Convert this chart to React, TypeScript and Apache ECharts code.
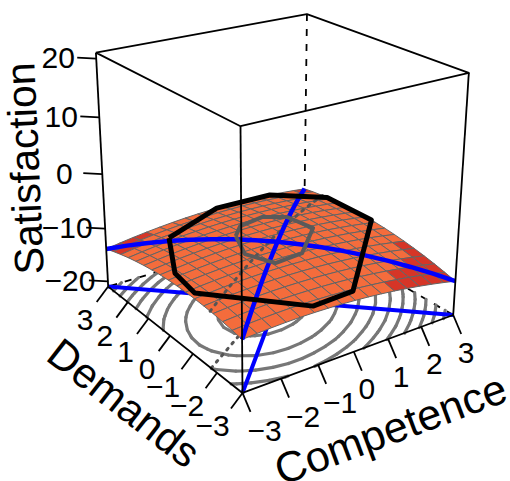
import React, { useEffect, useRef } from "react";
import * as echarts from "echarts";

// Grid positions shared by both horizontal axes
const gridAxis = [-3,-2.625,-2.25,-1.875,-1.5,-1.125,-0.75,-0.375,0,0.375,0.75,1.125,1.5,1.875,2.25,2.625,3];
const gridStep = 0.375;
// Satisfaction: one row per Competence value, one column per Demands value
const zGrid = [
[-11.97,-11.65,-11.39,-11.19,-11.04,-10.96,-10.93,-10.95,-11.04,-11.18,-11.38,-11.64,-11.96,-12.33,-12.77,-13.26,-13.80],
[-11.81,-11.47,-11.20,-10.98,-10.82,-10.72,-10.67,-10.69,-10.76,-10.89,-11.07,-11.32,-11.62,-11.98,-12.40,-12.87,-13.40],
[-11.69,-11.34,-11.05,-10.82,-10.64,-10.52,-10.46,-10.46,-10.52,-10.63,-10.80,-11.03,-11.32,-11.67,-12.07,-12.53,-13.04],
[-11.61,-11.25,-10.94,-10.70,-10.51,-10.38,-10.30,-10.29,-10.33,-10.43,-10.58,-10.80,-11.07,-11.40,-11.78,-12.23,-12.73],
[-11.58,-11.20,-10.88,-10.62,-10.42,-10.27,-10.18,-10.15,-10.18,-10.26,-10.40,-10.60,-10.86,-11.17,-11.55,-11.98,-12.47],
[-11.60,-11.20,-10.87,-10.59,-10.37,-10.21,-10.11,-10.06,-10.07,-10.14,-10.27,-10.45,-10.70,-11.00,-11.35,-11.77,-12.24],
[-11.66,-11.25,-10.90,-10.61,-10.37,-10.20,-10.08,-10.02,-10.01,-10.07,-10.18,-10.35,-10.58,-10.86,-11.21,-11.61,-12.06],
[-11.76,-11.34,-10.97,-10.67,-10.42,-10.23,-10.09,-10.02,-10.00,-10.04,-10.14,-10.29,-10.50,-10.77,-11.10,-11.49,-11.93],
[-11.91,-11.47,-11.09,-10.77,-10.51,-10.30,-10.15,-10.06,-10.03,-10.06,-10.14,-10.28,-10.47,-10.73,-11.04,-11.41,-11.84],
[-12.10,-11.65,-11.26,-10.92,-10.64,-10.42,-10.26,-10.15,-10.11,-10.12,-10.18,-10.31,-10.49,-10.73,-11.03,-11.39,-11.80],
[-12.34,-11.88,-11.47,-11.12,-10.82,-10.59,-10.41,-10.29,-10.23,-10.22,-10.27,-10.38,-10.55,-10.78,-11.06,-11.40,-11.80],
[-12.63,-12.15,-11.72,-11.36,-11.05,-10.80,-10.60,-10.47,-10.39,-10.37,-10.41,-10.51,-10.66,-10.87,-11.14,-11.46,-11.85],
[-12.96,-12.46,-12.02,-11.64,-11.32,-11.05,-10.84,-10.70,-10.60,-10.57,-10.59,-10.67,-10.81,-11.01,-11.26,-11.57,-11.94],
[-13.33,-12.82,-12.37,-11.97,-11.63,-11.35,-11.13,-10.96,-10.86,-10.81,-10.82,-10.88,-11.00,-11.19,-11.42,-11.72,-12.08],
[-13.75,-13.22,-12.76,-12.35,-11.99,-11.70,-11.46,-11.28,-11.16,-11.09,-11.09,-11.14,-11.25,-11.41,-11.64,-11.92,-12.26],
[-14.21,-13.67,-13.19,-12.76,-12.40,-12.09,-11.83,-11.64,-11.50,-11.42,-11.40,-11.44,-11.53,-11.68,-11.89,-12.16,-12.48],
[-14.72,-14.17,-13.67,-13.23,-12.85,-12.52,-12.25,-12.04,-11.89,-11.80,-11.76,-11.78,-11.86,-12.00,-12.19,-12.44,-12.75],
];
const contourLevels = [-10.255,-10.705,-11.155,-11.605,-12.055,-12.505,-12.955,-13.405,-13.855,-14.305];
const lowLevel = -12.4;
const zTicks = [20,10,0,-10,-20];
const xyTicks = [-3,-2,-1,0,1,2,3];
// rings on the surface, as (Competence, Demands)
const blackRing = [[-1.77,2.06],[-2.72,0.18],[-2.87,-0.92],[-1.01,-2.79],[0.18,-2.68],[3,0.15],[3,2],[1.86,3],[0.2,3]];
const greyRing = [[-0.6,0.89],[-1,-0.11],[-0.68,-0.89],[0.15,-0.79],[1.24,0.25],[1.12,1.18],[0.61,1.54],[-0.16,1.36]];
// ends of the dotted principal axis, as (Competence, Demands)
const principalAxis = [[-3,-1.76],[3,2.2]];
const zMin = -21, zMax = 21;

// camera: 3D box corner -> pixel correspondences, fitted to a projective matrix
const corr:number[][]=[
[-3,-3,-21,243,393],[3,-3,-21,453,315],[-3,3,-21,108,286],[-3,-3,21,240,126],[3,-3,21,469,73],[-3,3,21,96,53],[3,3,21,307,14],
[-3,3,20,96.5,58.5],[-3,3,0,102,174],[-3,3,-20,108,282]];
function solve(A:number[][],b:number[]){const n=b.length;const M=A.map((r,i)=>[...r,b[i]]);for(let i=0;i<n;i++){let p=i;for(let k=i+1;k<n;k++)if(Math.abs(M[k][i])>Math.abs(M[p][i]))p=k;[M[i],M[p]]=[M[p],M[i]];for(let k=0;k<n;k++)if(k!==i){const q=M[k][i]/M[i][i];for(let j=i;j<=n;j++)M[k][j]-=q*M[i][j];}}return M.map((r,i)=>r[n]/r[i]);}
function fit(){const rows:number[][]=[];const rhs:number[]=[];for(const [x,y,z,u0,v0] of corr){const X=x/3,Y=y/3,Z=z/21,u=u0/500,v=v0/500;rows.push([X,Y,Z,1,0,0,0,0,-u*X,-u*Y,-u*Z]);rhs.push(u);rows.push([0,0,0,0,X,Y,Z,1,-v*X,-v*Y,-v*Z]);rhs.push(v);}
const ata=Array.from({length:11},(_,i)=>Array.from({length:11},(_,j)=>rows.reduce((s,r)=>s+r[i]*r[j],0)));const atb=Array.from({length:11},(_,i)=>rows.reduce((s,r,k)=>s+r[i]*rhs[k],0));return solve(ata,atb);}
const P=fit();
function project(x:number,y:number,z:number){const X=x/3,Y=y/3,Z=z/21;const w=P[8]*X+P[9]*Y+P[10]*Z+1;return [500*(P[0]*X+P[1]*Y+P[2]*Z+P[3])/w,500*(P[4]*X+P[5]*Y+P[6]*Z+P[7])/w];}

type Prim={k:"line"|"poly"|"text",pts?:number[][],style?:any,text?:string,rot?:number,at?:number[]};
const n=gridAxis.length;
function zAt(x:number,y:number){const fi=Math.min(n-1.001,Math.max(0,(x+3)/gridStep)),fj=Math.min(n-1.001,Math.max(0,(y+3)/gridStep));const i=Math.floor(fi),j=Math.floor(fj),a=fi-i,b=fj-j;return zGrid[i][j]*(1-a)*(1-b)+zGrid[i+1][j]*a*(1-b)+zGrid[i][j+1]*(1-a)*b+zGrid[i+1][j+1]*a*b;}
function contourSegs(level:number){const s:number[][][]=[];for(let i=0;i<n-1;i++)for(let j=0;j<n-1;j++){const c=[[i,j],[i+1,j],[i+1,j+1],[i,j+1]];const p:number[][]=[];for(let e=0;e<4;e++){const [a,b]=[c[e],c[(e+1)%4]];const za=zGrid[a[0]][a[1]],zb=zGrid[b[0]][b[1]];if((za-level)*(zb-level)<0){const t=(level-za)/(zb-za);p.push([gridAxis[a[0]]+t*(gridAxis[b[0]]-gridAxis[a[0]]),gridAxis[a[1]]+t*(gridAxis[b[1]]-gridAxis[a[1]])]);}}if(p.length===2)s.push(p);if(p.length===4){s.push([p[0],p[1]]);s.push([p[2],p[3]]);}}return s;}
const px=(a:number[])=>project(a[0],a[1],a[2]);
const lineP=(pts3:number[][],stroke:string,lw:number,dash?:number[],cap="butt"):Prim=>({k:"line",pts:pts3.map(px),style:{stroke,lineWidth:lw,lineDash:dash,lineCap:cap,lineJoin:"round",fill:"none"}});
const pa=(x:number)=>principalAxis[0][1]+(principalAxis[1][1]-principalAxis[0][1])*(x-principalAxis[0][0])/(principalAxis[1][0]-principalAxis[0][0]);

const under:Prim[]=[];
under.push(lineP([[3,3,zMin],[-3,3,zMin]],"#000",1.8,[7,8]));
under.push(lineP([[3,3,zMin],[3,-3,zMin]],"#000",1.8,[7,8]));
under.push(lineP([[3,3,zMax],[3,3,zMin]],"#000",1.8,[7,8]));
for(const l of contourLevels)for(const s of contourSegs(l))under.push(lineP(s.map(q=>[q[0],q[1],zMin]),"#777",3.2,undefined,"round"));
under.push(lineP([[-3,-3,zMin],[3,3,zMin]],"#0000ff",4));
under.push(lineP([[-3,3,zMin],[3,-3,zMin]],"#0000ff",4));
under.push(lineP(gridAxis.map(x=>[x,pa(x),zMin]),"#555",3,[2,6],"round"));
under.push(lineP([[-3,3,zMin],[-3,-3,zMin],[3,-3,zMin]],"#000",1.8));

const cells:number[][]=[];
for(let s=2*(n-2);s>=0;s--)for(let i=0;i<n-1;i++){const j=s-i;if(j>=0&&j<n-1)cells.push([i,j]);}
const surf:Prim[]=cells.map(([i,j])=>{const m=(zGrid[i][j]+zGrid[i+1][j]+zGrid[i+1][j+1]+zGrid[i][j+1])/4;return {k:"poly",pts:[[i,j],[i+1,j],[i+1,j+1],[i,j+1]].map(([a,b])=>project(gridAxis[a],gridAxis[b],zGrid[a][b])),style:{fill:m<lowLevel?"#d63527":"#f46c3c",stroke:"#646464",lineWidth:1}};});

const top:Prim[]=[];
const onS=(x:number,y:number)=>[x,y,zAt(x,y)];
top.push(lineP(gridAxis.map(x=>onS(x,pa(x))),"#555",3,[2,6],"round"));
top.push(lineP(gridAxis.map((x,i)=>[x,x,zGrid[i][i]]),"#0000ff",4.5));
top.push(lineP(gridAxis.map((x,i)=>[x,-x,zGrid[i][n-1-i]]),"#0000ff",4.5));
const ring=(r:number[][])=>[...r,r[0]].map(q=>onS(q[0],q[1]));
top.push(lineP(ring(greyRing),"#5a5a5a",4));
top.push(lineP(ring(blackRing),"#000",5));
top.push(lineP([[-3,-3,zMax],[-3,-3,zMin]],"#000",1.8));
top.push(lineP([[-3,3,zMax],[-3,3,zMin]],"#000",1.8));
top.push(lineP([[3,-3,zMax],[3,-3,zMin]],"#000",1.8));
top.push(lineP([[-3,3,zMax],[-3,-3,zMax],[3,-3,zMax],[3,3,zMax],[-3,3,zMax]],"#000",1.8));
const FONT="Liberation Sans";
const txt=(s:string,at:number[],fs:number,rot=0):Prim=>({k:"text",text:s,at,rot,style:{fontSize:fs,fontFamily:FONT}});
const lab=(v:number)=>v<0?"\u2212"+(-v):""+v;
const off=(a:number[],d:number[])=>[a[0]+d[0],a[1]+d[1]];
const tickStyle={stroke:"#000",lineWidth:1.8,fill:"none"};
for(const v of zTicks){const b=project(-3,3,v);top.push({k:"line",pts:[b,off(b,[-19,-1])],style:tickStyle});top.push(txt(lab(v),off(b,[-38,-1]),30));}
for(const v of xyTicks){const b=project(v,-3,zMin);top.push({k:"line",pts:[b,off(b,[8,19])],style:tickStyle});top.push(txt(lab(v),off(b,v<0?[22,38]:[13,37]),30));}
for(const v of xyTicks){const b=project(-3,v,zMin);top.push({k:"line",pts:[b,off(b,[-11.5,15.5])],style:tickStyle});top.push(txt(lab(v),off(b,v<0?[-30,33]:[-23,33]),30));}
top.push(txt("Satisfaction",[25,168.5],41,92.5*Math.PI/180));
top.push(txt("Demands",[124,403],42,-38*Math.PI/180));
top.push(txt("Competence",[390.5,429],43,20.5*Math.PI/180));

function layer(prims:Prim[],z:number){return {type:"custom",coordinateSystem:"cartesian2d",z,silent:true,clip:false,data:prims.map((_,i)=>[i]),animation:false,
renderItem:(params:any,api:any)=>{const p=prims[api.value(0)];if(p.k==="text"){const c=api.coord(p.at);return {type:"text",x:c[0],y:c[1],rotation:p.rot,silent:true,style:{text:p.text,...p.style,fill:"#000",align:"center",verticalAlign:"middle"}};}
const pts=p.pts!.map((q:number[])=>api.coord(q));return {type:p.k==="poly"?"polygon":"polyline",shape:{points:pts},silent:true,style:p.style};}};}

export default function App(){const ref=useRef<HTMLDivElement>(null);useEffect(()=>{const ch=echarts.init(ref.current!,undefined,{renderer:"svg"});ch.setOption({animation:false,backgroundColor:"#fff",grid:{left:0,right:0,top:0,bottom:0},xAxis:{type:"value",min:0,max:510,show:false},yAxis:{type:"value",min:0,max:481,inverse:true,show:false},series:[layer(under,1),layer(surf,2),layer(top,3)]});return()=>ch.dispose();},[]);
return <div ref={ref} style={{position:"absolute",left:0,top:0,width:510,height:481}}/>;}
